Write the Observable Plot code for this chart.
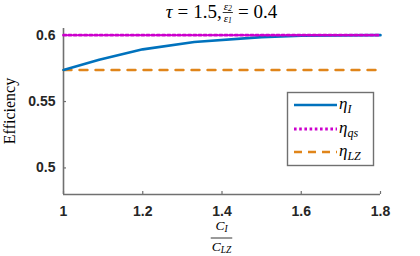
<!DOCTYPE html>
<html><head><meta charset="utf-8">
<script src="https://cdn.jsdelivr.net/npm/d3@7"></script>
<script src="https://cdn.jsdelivr.net/npm/@observablehq/plot@0.6"></script>
<style>body{margin:0;background:#fff}</style>
</head><body><div id="chart"></div>
<script>
// Data
const ratio = [1, 1.09, 1.2, 1.33, 1.5, 1.6, 1.8];            // C_I / C_LZ
const etaI  = [0.5738, 0.5815, 0.5893, 0.5948, 0.5985, 0.5996, 0.6];
const ratioEnds = [1, 1.8];
const etaQS = [0.6, 0.6];
const etaLZ = [0.5738, 0.5738];
const xTicks = [1, 1.2, 1.4, 1.6, 1.8];
const yTicks = [0.5, 0.55, 0.6];
const seriesNames = ["I", "qs", "LZ"];

const colors = {I: "#0072BD", qs: "#CC00CC", LZ: "#E0851A"};
const axisStroke = "#707070";
const serif = "'Liberation Serif', 'DejaVu Serif', serif";

const lineI  = ratio.map((x, i) => ({x, y: etaI[i]}));
const lineQS = ratioEnds.map((x, i) => ({x, y: etaQS[i]}));
const lineLZ = ratioEnds.map((x, i) => ({x, y: etaLZ[i]}));

const chart = Plot.plot({
  width: 420, height: 256,
  marginLeft: 63, marginRight: 40, marginTop: 28, marginBottom: 62,
  style: {background: "white", fontFamily: "'Liberation Sans', Arial, sans-serif", overflow: "visible"},
  x: {domain: [1, 1.8]},
  y: {domain: [0.48, 0.605]},
  marks: [
    Plot.ruleX([1], {stroke: axisStroke, strokeWidth: 1.6}),
    Plot.ruleY([0.48], {stroke: axisStroke, strokeWidth: 1.6}),
    Plot.axisX({ticks: xTicks, tickSize: -3, tickPadding: 15, tickFormat: d => String(d),
      stroke: axisStroke, strokeWidth: 1.2, fill: "#262626", fontSize: 14, fontWeight: "bold", label: null}),
    Plot.axisY({ticks: yTicks, tickSize: -3, tickPadding: 11, tickFormat: d => String(d),
      stroke: axisStroke, strokeWidth: 1.2, fill: "#262626", fontSize: 14, fontWeight: "bold", label: null}),
    Plot.line(lineLZ, {x: "x", y: "y", stroke: colors.LZ, strokeWidth: 2.4, strokeDasharray: "8,8"}),
    Plot.line(lineI, {x: "x", y: "y", stroke: colors.I, strokeWidth: 2.6}),
    Plot.line(lineQS, {x: "x", y: "y", stroke: colors.qs, strokeWidth: 2.8, strokeDasharray: "2.6,2.6"})
  ]
});
document.getElementById("chart").appendChild(chart);

const svg = d3.select(chart);

// helper: sequence of pieces laid out horizontally, centered at cx
function row(parent, pieces, cx, baseline) {
  const g = parent.append("g").attr("text-anchor", "start");
  let x = 0;
  for (const p of pieces) {
    if (p.frac) {
      const sz = p.size;
      const mk = (parts, y) => {
        const t = g.append("text").attr("font-family", serif).attr("font-size", sz)
          .attr("y", y).attr("text-anchor", "middle").attr("fill", "#000");
        t.append("tspan").attr("font-style", "italic").text(parts[0]);
        if (parts[1]) t.append("tspan").attr("font-style", "italic").attr("font-size", sz * 0.7).attr("dy", sz * p.subDy).text(parts[1]);
        return t;
      };
      const num = mk(p.num, baseline - p.up);
      const den = mk(p.den, baseline + p.down);
      const w = Math.max(num.node().getComputedTextLength(), den.node().getComputedTextLength()) + 2;
      num.attr("x", x + w / 2); den.attr("x", x + w / 2);
      g.append("line").attr("x1", x).attr("x2", x + w).attr("y1", baseline - p.bar).attr("y2", baseline - p.bar)
        .attr("stroke", "#000").attr("stroke-width", 0.8);
      x += w + (p.gap || 0);
    } else {
      const t = g.append("text").attr("font-family", serif).attr("font-size", p.size)
        .attr("text-anchor", "start")
        .attr("font-style", p.italic ? "italic" : "normal").attr("x", x).attr("y", baseline).attr("fill", "#000");
      t.append("tspan").text(p.text);
      x += t.node().getComputedTextLength() + (p.gap || 0);
    }
  }
  g.attr("transform", `translate(${cx - x / 2},0)`);
  return g;
}

// Title: τ = 1.5, ε2/ε1 = 0.4
row(svg, [
  {text: "τ", italic: true, size: 19, gap: 5},
  {text: "=", size: 19, gap: 5},
  {text: "1.5,", size: 19, gap: 1},
  {frac: true, num: ["ε", "2"], den: ["ε", "1"], size: 11, subDy: 0.12, up: 8, down: 4, bar: 5.5, gap: 5},
  {text: "=", size: 19, gap: 5},
  {text: "0.4", size: 19}
], 221.5, 18);

// x label: C_I / C_LZ
row(svg, [
  {frac: true, num: ["C", "I"], den: ["C", "LZ"], size: 13.5, subDy: 0.15, up: 15, down: 6, bar: 7}
], 221.5, 245);

// y label
svg.append("text").attr("font-family", serif).attr("font-size", 16).attr("fill", "#000")
  .attr("transform", "translate(15,111) rotate(-90)").attr("text-anchor", "middle").text("Efficiency");

// Legend
const lg = svg.append("g").attr("text-anchor", "start");
lg.append("rect").attr("x", 287.5).attr("y", 92.5).attr("width", 86).attr("height", 73)
  .attr("fill", "#fff").attr("stroke", axisStroke).attr("stroke-width", 1.4);
const legendStyles = {
  I: {dash: null, w: 2.6}, qs: {dash: "2.6,2.6", w: 2.8}, LZ: {dash: "8,6", w: 2.4}
};
const legendY = [105, 129, 152];
seriesNames.forEach((s, i) => {
  const y = legendY[i];
  const ln = lg.append("line").attr("x1", 294).attr("x2", 337).attr("y1", y).attr("y2", y)
    .attr("stroke", colors[s]).attr("stroke-width", legendStyles[s].w);
  if (legendStyles[s].dash) ln.attr("stroke-dasharray", legendStyles[s].dash);
  const t = lg.append("text").attr("x", 339).attr("y", y + 4).attr("font-family", serif)
    .attr("text-anchor", "start").attr("font-style", "italic").attr("font-size", 17).attr("fill", "#000");
  t.append("tspan").text("η");
  t.append("tspan").attr("font-size", 12).attr("dy", 4).text(s);
});
</script></body></html>
